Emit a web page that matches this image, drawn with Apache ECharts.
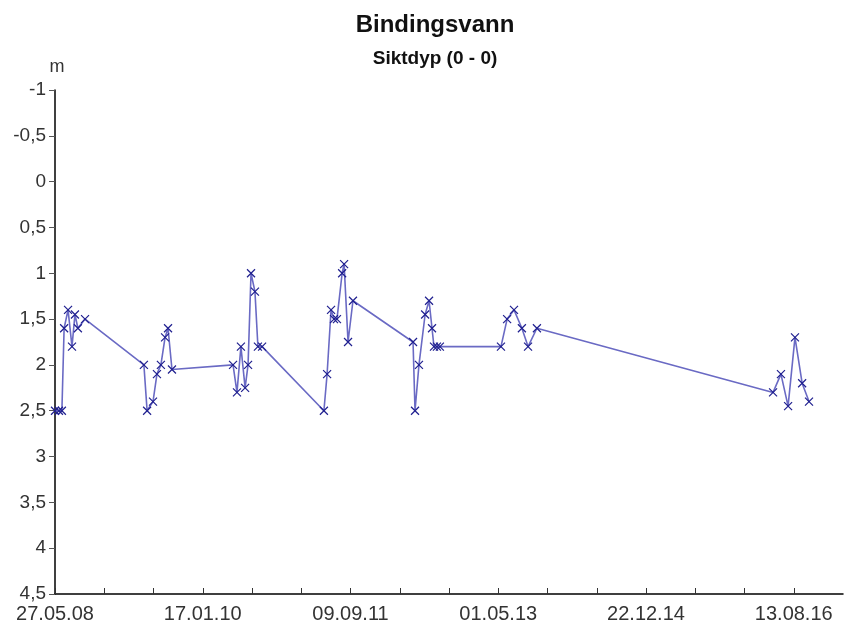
<!DOCTYPE html>
<html>
<head>
<meta charset="utf-8">
<script src="https://cdn.jsdelivr.net/npm/echarts@6/dist/echarts.min.js"></script>
<style>
  html, body { margin: 0; padding: 0; background: #fff; }
  #chart { width: 845px; height: 632px; }
</style>
</head>
<body>
<div id="chart"></div>
<script>
// målingsdatoer og siktdyp (m)
var dates = [
  '2008-05-27', '2008-06-12', '2008-06-24', '2008-07-03', '2008-07-19', '2008-08-04', '2008-08-16', '2008-08-28', '2008-09-26',
  '2009-05-23', '2009-06-05', '2009-06-29', '2009-07-15', '2009-07-31', '2009-08-17', '2009-08-29', '2009-09-14',
  '2010-05-20', '2010-06-05', '2010-06-21', '2010-07-08', '2010-07-20', '2010-08-01', '2010-08-17', '2010-08-29', '2010-09-15',
  '2011-05-24', '2011-06-06', '2011-06-22', '2011-07-04', '2011-07-16', '2011-08-06', '2011-08-14', '2011-08-30', '2011-09-19',
  '2012-05-20', '2012-05-28', '2012-06-13', '2012-07-08', '2012-07-24', '2012-08-05', '2012-08-13', '2012-08-25', '2012-09-06',
  '2013-05-12', '2013-06-06', '2013-07-04', '2013-08-05', '2013-08-30', '2013-10-05',
  '2016-05-21', '2016-06-22', '2016-07-21', '2016-08-18', '2016-09-16', '2016-10-14'
];
var siktdyp = [
  2.5, 2.5, 2.5, 1.6, 1.4, 1.8, 1.45, 1.6, 1.5,
  2.0, 2.5, 2.4, 2.1, 2.0, 1.7, 1.6, 2.05,
  2.0, 2.3, 1.8, 2.25, 2.0, 1.0, 1.2, 1.8, 1.8,
  2.5, 2.1, 1.4, 1.5, 1.5, 1.0, 0.9, 1.75, 1.3,
  1.75, 2.5, 2.0, 1.45, 1.3, 1.6, 1.8, 1.8, 1.8,
  1.8, 1.5, 1.4, 1.6, 1.8, 1.6,
  2.3, 2.1, 2.45, 1.7, 2.2, 2.4
];
var startDate = '2008-05-27';

var DAY = 86400000;
function toMs(s) {
  var p = s.split('-');
  return Date.UTC(+p[0], +p[1] - 1, +p[2]);
}
var t0 = toMs(startDate);
function pad(n) { return n < 10 ? '0' + n : '' + n; }
function dayLabel(d) {
  var dt = new Date(t0 + d * DAY);
  return pad(dt.getUTCDate()) + '.' + pad(dt.getUTCMonth() + 1) + '.' + pad(dt.getUTCFullYear() % 100);
}

var seriesData = [];
for (var i = 0; i < dates.length; i++) {
  seriesData.push([Math.round((toMs(dates[i]) - t0) / DAY), siktdyp[i]]);
}

var chart = echarts.init(document.getElementById('chart'));
var option = {
  animation: false,
  title: [
    {
      text: 'Bindingsvann',
      left: 430, top: 8, textAlign: 'center',
      textStyle: { fontFamily: 'Liberation Sans', fontSize: 24, fontWeight: 'bold', color: '#111' }
    },
    {
      text: 'Siktdyp (0 - 0)',
      left: 430, top: 44, textAlign: 'center',
      textStyle: { fontFamily: 'Liberation Sans', fontSize: 19, fontWeight: 'bold', color: '#111' }
    }
  ],
  grid: { left: 55, right: 2, top: 90, bottom: 38, containLabel: false },
  xAxis: {
    type: 'value',
    min: 0,
    max: 3200,
    interval: 200,
    axisLine: { onZero: false, lineStyle: { color: '#000', width: 1.5 } },
    axisTick: { inside: true, length: 6, lineStyle: { color: '#333' } },
    splitLine: { show: false },
    axisLabel: {
      margin: 10,
      fontFamily: 'Liberation Sans', fontSize: 20, color: '#333',
      showMaxLabel: false,
      formatter: function (v) { return v % 600 === 0 ? dayLabel(v) : ''; }
    }
  },
  yAxis: {
    type: 'value',
    inverse: true,
    min: -1,
    max: 4.5,
    interval: 0.5,
    name: 'm',
    nameLocation: 'start',
    nameGap: 14,
    nameTextStyle: { fontFamily: 'Liberation Sans', fontSize: 18, color: '#333', padding: [0, 0, 0, 4] },
    axisLine: { onZero: false, lineStyle: { color: '#000', width: 1.5 } },
    axisTick: { length: 6, lineStyle: { color: '#555' } },
    splitLine: { show: false },
    axisLabel: {
      margin: 9,
      fontFamily: 'Liberation Sans', fontSize: 19, color: '#333',
      formatter: function (v) { return String(v).replace('.', ','); }
    }
  },
  series: [
    {
      type: 'line',
      data: seriesData,
      lineStyle: { color: '#6a6ac4', width: 1.6 },
      symbol: 'path://M0,0L10,10M10,0L0,10',
      symbolSize: 8,
      itemStyle: { color: 'none', borderColor: '#1f1f8f', borderWidth: 1.2 }
    }
  ]
};
chart.setOption(option);
</script>
</body>
</html>
